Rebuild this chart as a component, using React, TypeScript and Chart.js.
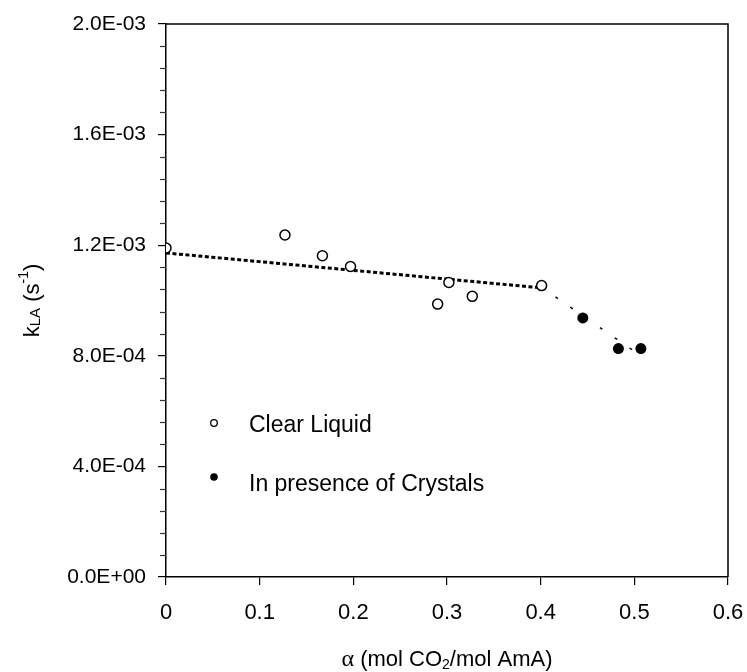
import React, { useEffect, useRef } from 'react';
import { Chart, registerables } from 'chart.js';

Chart.register(...registerables);

// ---- data ----
const clearAlpha = [0, 0.127, 0.167, 0.197, 0.29, 0.302, 0.327, 0.401];
const clearKla = [1.19e-3, 1.237e-3, 1.162e-3, 1.123e-3, 0.987e-3, 1.065e-3, 1.015e-3, 1.054e-3];
const crystalAlpha = [0.445, 0.483, 0.507];
const crystalKla = [0.937e-3, 0.826e-3, 0.826e-3];
const clearFitAlpha = [0, 0.403];
const clearFitKla = [1.172e-3, 1.045e-3];
const crystalFitAlpha = [0.4, 0.507];
const crystalFitKla = [1.05e-3, 0.8e-3];
const xTickValues = [0, 0.1, 0.2, 0.3, 0.4, 0.5, 0.6];
const yMajorStep = 4e-4;
const yMinorStep = 0.8e-4;
const yMax = 2e-3;
const legendLabels = ['Clear Liquid', 'In presence of Crystals'];

const FONT = '"Liberation Sans", Arial, sans-serif';

function sci(v: number): string {
  if (Math.abs(v) < 1e-12) return '0.0E+00';
  const e = Math.floor(Math.log10(Math.abs(v)) + 1e-9);
  const m = v / Math.pow(10, e);
  return m.toFixed(1) + 'E' + (e < 0 ? '-' : '+') + String(Math.abs(e)).padStart(2, '0');
}

type Part = { t: string; size: number; dy: number; font?: string };

function drawRich(ctx: CanvasRenderingContext2D, parts: Part[], cx: number, cy: number) {
  let total = 0;
  const widths: number[] = [];
  for (const p of parts) {
    ctx.font = `${p.size}px ${p.font || FONT}`;
    const w = ctx.measureText(p.t).width;
    widths.push(w);
    total += w;
  }
  let x = cx - total / 2;
  ctx.textBaseline = 'middle';
  ctx.textAlign = 'left';
  parts.forEach((p, i) => {
    ctx.font = `${p.size}px ${p.font || FONT}`;
    ctx.fillText(p.t, x, cy + p.dy);
    x += widths[i];
  });
}

const decorPlugin = {
  id: 'decor',
  afterDraw(chart: any) {
    const { ctx, chartArea } = chart;
    const y = chart.scales.y;
    ctx.save();
    // frame top / right
    ctx.strokeStyle = '#000';
    ctx.lineWidth = 1.5;
    ctx.beginPath();
    ctx.moveTo(chartArea.left, chartArea.top);
    ctx.lineTo(chartArea.right, chartArea.top);
    ctx.lineTo(chartArea.right, chartArea.bottom);
    ctx.stroke();
    // minor y ticks
    ctx.lineWidth = 1.2;
    ctx.strokeStyle = '#333';
    const n = Math.round(yMax / yMinorStep);
    for (let i = 0; i <= n; i++) {
      const v = i * yMinorStep;
      if (i % 5 === 0) continue;
      const py = Math.round(y.getPixelForValue(v)) + 0.5;
      ctx.beginPath();
      ctx.moveTo(chartArea.left - 6, py);
      ctx.lineTo(chartArea.left, py);
      ctx.stroke();
    }
    // legend
    const lx = chartArea.left + 48;
    const ly1 = chartArea.top + 399;
    const ly2 = chartArea.top + 453;
    ctx.lineWidth = 1.3;
    ctx.strokeStyle = '#000';
    ctx.beginPath();
    ctx.arc(lx, ly1, 3.3, 0, Math.PI * 2);
    ctx.fillStyle = '#fff';
    ctx.fill();
    ctx.stroke();
    ctx.fillStyle = '#000';
    ctx.beginPath();
    ctx.arc(lx, ly2, 3.8, 0, Math.PI * 2);
    ctx.fill();
    ctx.font = `23px ${FONT}`;
    ctx.textAlign = 'left';
    ctx.textBaseline = 'alphabetic';
    ctx.fillText(legendLabels[0], lx + 35, chartArea.top + 408);
    ctx.fillText(legendLabels[1], lx + 35, chartArea.top + 467);
    // x title
    const cx = (chartArea.left + chartArea.right) / 2;
    drawRich(
      ctx,
      [
        { t: 'α', size: 24, dy: 0, font: '"Liberation Serif", serif' },
        { t: ' (mol CO', size: 22, dy: 0 },
        { t: '2', size: 14, dy: 5 },
        { t: '/mol AmA)', size: 22, dy: 0 },
      ],
      cx,
      chartArea.bottom + 83
    );
    // y title
    ctx.translate(33, (chartArea.top + chartArea.bottom) / 2);
    ctx.rotate(-Math.PI / 2);
    drawRich(
      ctx,
      [
        { t: 'k', size: 22, dy: 0 },
        { t: 'LA', size: 15, dy: 3 },
        { t: ' (s', size: 22, dy: 0 },
        { t: '-1', size: 14, dy: -9 },
        { t: ')', size: 22, dy: 0 },
      ],
      0,
      0
    );
    ctx.restore();
  },
};

export default function App() {
  const ref = useRef<HTMLCanvasElement>(null);
  useEffect(() => {
    document.body.style.margin = '0';
    const c = ref.current!;
    const chart = new Chart(c, {
      type: 'scatter',
      data: {
        datasets: [
          {
            label: legendLabels[0],
            data: clearAlpha.map((a, i) => ({ x: a, y: clearKla[i] })),
            pointRadius: 5,
            pointBorderWidth: 1.5,
            pointBackgroundColor: '#fff',
            pointBorderColor: '#000',
            order: 0,
          },
          {
            label: legendLabels[1],
            data: crystalAlpha.map((a, i) => ({ x: a, y: crystalKla[i] })),
            pointRadius: 5.5,
            pointBorderWidth: 0,
            pointBackgroundColor: '#000',
            pointBorderColor: '#000',
            order: 0,
          },
          {
            type: 'line',
            label: 'fit1',
            data: clearFitAlpha.map((a, i) => ({ x: a, y: clearFitKla[i] })),
            borderColor: '#000',
            borderWidth: 3,
            borderDash: [4, 2.5],
            pointRadius: 0,
            showLine: true,
            order: 1,
          } as any,
          {
            type: 'line',
            label: 'fit2',
            data: crystalFitAlpha.map((a, i) => ({ x: a, y: crystalFitKla[i] })),
            borderColor: '#000',
            borderWidth: 1.5,
            borderDash: [3, 15],
            pointRadius: 0,
            showLine: true,
            order: 1,
          } as any,
        ],
      },
      options: {
        animation: false,
        responsive: true,
        maintainAspectRatio: false,
        layout: { padding: { left: 0, top: 24, right: 19, bottom: 0 } },
        plugins: { legend: { display: false }, tooltip: { enabled: false } },
        scales: {
          x: {
            type: 'linear',
            min: 0,
            max: 0.6,
            afterBuildTicks: (s: any) => {
              s.ticks = xTickValues.map((v) => ({ value: v }));
            },
            afterFit: (s: any) => {
              s.height = 95;
              s.paddingLeft = 0;
              s.paddingRight = 0;
            },
            ticks: {
              color: '#000',
              font: { family: FONT, size: 22 },
              padding: 15,
              callback: (v: any) => String(Math.round(Number(v) * 10) / 10),
            },
            grid: { drawOnChartArea: false, drawTicks: true, tickLength: 8, color: '#000', lineWidth: 1.2 },
            border: { display: true, color: '#000', width: 1.5 },
          },
          y: {
            type: 'linear',
            min: 0,
            max: yMax,
            afterBuildTicks: (s: any) => {
              const t = [];
              for (let i = 0; i <= Math.round(yMax / yMajorStep); i++) t.push({ value: i * yMajorStep });
              s.ticks = t;
            },
            afterFit: (s: any) => {
              s.width = 166;
              s.paddingTop = 0;
              s.paddingBottom = 0;
            },
            ticks: {
              color: '#000',
              font: { family: FONT, size: 21 },
              padding: 12,
              callback: (v: any) => sci(Number(v)),
            },
            grid: { drawOnChartArea: false, drawTicks: true, tickLength: 8, color: '#000', lineWidth: 1.2 },
            border: { display: true, color: '#000', width: 1.5 },
          },
        },
      },
      plugins: [decorPlugin],
    });
    return () => chart.destroy();
  }, []);
  return (
    <div style={{ position: 'fixed', left: 0, top: 0, width: 747, height: 672, background: '#fff' }}>
      <canvas ref={ref} />
    </div>
  );
}
